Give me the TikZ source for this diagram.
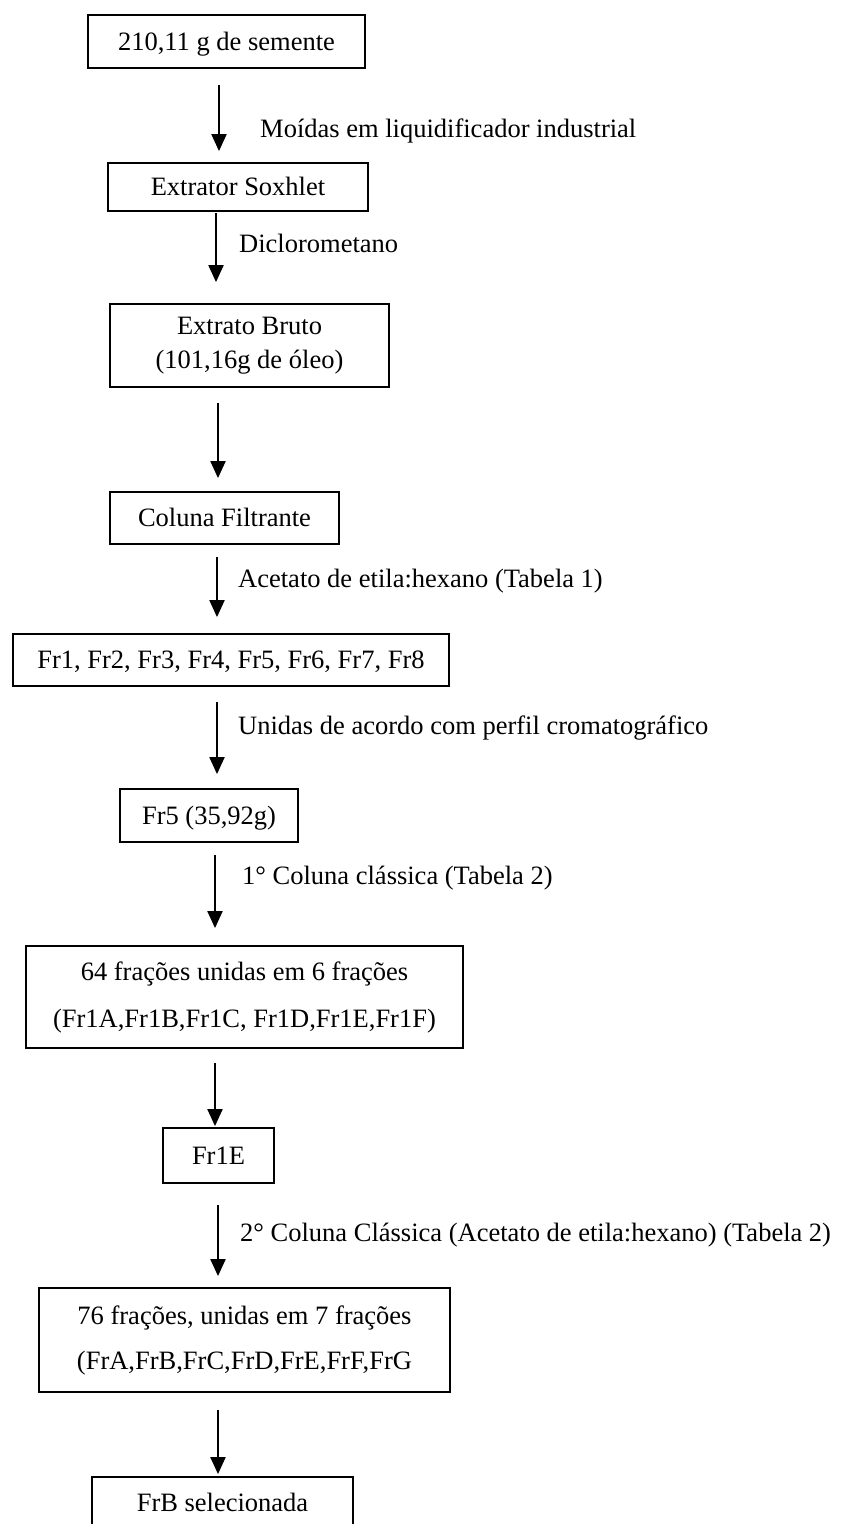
\documentclass[tikz,border=0pt]{standalone}
\usepackage{fontspec}
\setmainfont{Liberation Serif}
\usetikzlibrary{arrows.meta}
\newcommand\fs{\fontsize{26.5}{32}\selectfont}
\begin{document}
\begin{tikzpicture}[x=1pt,y=-1pt,
  box/.style={draw,line width=1.8pt,inner sep=0pt,font=\fs,text height=17.6pt,text depth=0pt},
  mbox/.style={draw,line width=1.8pt,inner sep=0pt,align=center},
  lbl/.style={anchor=base west,inner sep=0pt,font=\fs},
  arr/.style={line width=2pt,-{Triangle[width=15pt,length=17pt]}}]
\useasboundingbox (0,0) rectangle (841,1524);
\clip (0,0) rectangle (841,1524);
% boxes
\node[box,minimum width=277pt,minimum height=53pt] (b1) at (226.5,41.5) {210,11 g de semente};
\node[box,minimum width=260pt,minimum height=48pt] (b2) at (238,187) {Extrator Soxhlet};
\node[mbox,minimum width=279pt,minimum height=83pt,font=\fontsize{26.5}{34}\selectfont] (b3) at (249.5,345.5) {Extrato Bruto\\(101,16g de óleo)};
\node[box,minimum width=229pt,minimum height=52pt] (b4) at (224.5,518) {Coluna Filtrante};
\node[box,minimum width=436pt,minimum height=52pt] (b5) at (231,660) {Fr1, Fr2, Fr3, Fr4, Fr5, Fr6, Fr7, Fr8};
\node[box,minimum width=178pt,minimum height=53pt] (b6) at (209,815.5) {Fr5 (35,92g)};
\node[mbox,minimum width=437pt,minimum height=102pt,font=\fontsize{26.5}{47}\selectfont] (b7) at (244.5,997) {64 frações unidas em 6 frações\\(Fr1A,Fr1B,Fr1C, Fr1D,Fr1E,Fr1F)};
\node[box,minimum width=111pt,minimum height=55pt] (b8) at (218.5,1155.5) {Fr1E};
\node[mbox,minimum width=411pt,minimum height=104pt,font=\fontsize{26.5}{45}\selectfont] (b9) at (244.5,1340) {76 frações, unidas em 7 frações\\(FrA,FrB,FrC,FrD,FrE,FrF,FrG};
\node[box,minimum width=261pt,minimum height=52pt] (b10) at (222.5,1503) {FrB selecionada};
% arrow starts
\coordinate (s1) at (219,85);
\coordinate (s2) at (216,213);
\coordinate (s3) at (218,403);
\coordinate (s4) at (217,557);
\coordinate (s5) at (217,702);
\coordinate (s6) at (215,855);
\coordinate (s7) at (215,1063);
\coordinate (s8) at (218,1205);
\coordinate (s9) at (218,1410);
% arrows
\draw[arr,shorten >=11pt] (s1) -- (s1 |- b2.north);
\draw[arr,shorten >=21pt] (s2) -- (s2 |- b3.north);
\draw[arr,shorten >=13pt] (s3) -- (s3 |- b4.north);
\draw[arr,shorten >=16pt] (s4) -- (s4 |- b5.north);
\draw[arr,shorten >=14pt] (s5) -- (s5 |- b6.north);
\draw[arr,shorten >=17pt] (s6) -- (s6 |- b7.north);
\draw[arr,shorten >=1pt] (s7) -- (s7 |- b8.north);
\draw[arr,shorten >=11pt] (s8) -- (s8 |- b9.north);
\draw[arr,shorten >=2pt] (s9) -- (s9 |- b10.north);
% labels
\node[lbl] (l1) at (260,137) {Moídas em liquidificador industrial};
\node[lbl] (l2) at (239,252) {Diclorometano};
\node[lbl] (l4) at (238,587) {Acetato de etila:hexano (Tabela 1)};
\node[lbl] (l5) at (238,734) {Unidas de acordo com perfil cromatográfico};
\node[lbl] (l6) at (242,884) {1° Coluna clássica (Tabela 2)};
\node[lbl] (l8) at (240,1241) {2° Coluna Clássica (Acetato de etila:hexano) (Tabela 2)};
\end{tikzpicture}
\end{document}
